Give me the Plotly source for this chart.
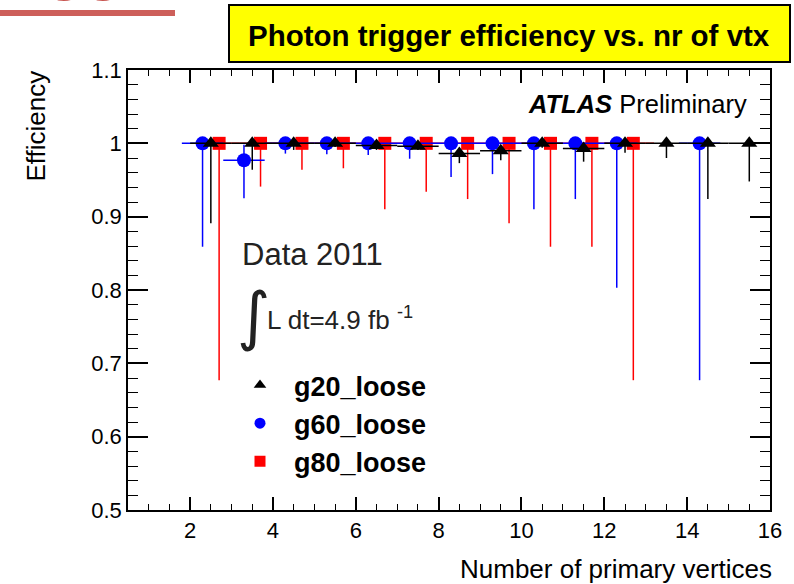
import plotly.graph_objects as go

# Efficiency of the photon triggers versus the number of primary vertices
g20_x = [2.5, 3.5, 4.5, 5.5, 6.5, 7.5, 8.5, 9.5, 10.5, 11.5, 12.5, 13.5, 14.5, 15.5]
g20_eff = [1.0, 1.0, 1.0, 1.0, 0.997, 0.996, 0.986, 0.990, 1.0, 0.993, 1.0, 1.0, 1.0, 1.0]
g20_err_lo = [0.109, 0.036, 0.009, 0.005, 0.006, 0.005, 0.013, 0.013, 0.006, 0.018, 0.013, 0.020, 0.076, 0.052]
g20_err_hi = [0.0, 0.0, 0.0, 0.0, 0.003, 0.004, 0.006, 0.004, 0.0, 0.004, 0.0, 0.0, 0.0, 0.0]

g60_x = [2.3, 3.3, 4.3, 5.3, 6.3, 7.3, 8.3, 9.3, 10.3, 11.3, 12.3, 14.3]
g60_eff = [1.0, 0.977, 1.0, 1.0, 1.0, 1.0, 1.0, 1.0, 1.0, 1.0, 1.0, 1.0]
g60_err_lo = [0.141, 0.052, 0.014, 0.015, 0.016, 0.021, 0.046, 0.042, 0.090, 0.076, 0.197, 0.323]
g60_err_hi = [0.0, 0.021, 0.0, 0.0, 0.0, 0.0, 0.0, 0.0, 0.0, 0.0, 0.0, 0.0]

g80_x = [2.7, 3.7, 4.7, 5.7, 6.7, 7.7, 8.7, 9.7, 10.7, 11.7, 12.7]
g80_eff = [1.0, 1.0, 1.0, 1.0, 1.0, 1.0, 1.0, 1.0, 1.0, 1.0, 1.0]
g80_err_lo = [0.323, 0.059, 0.036, 0.034, 0.090, 0.066, 0.076, 0.109, 0.141, 0.141, 0.323]
g80_err_hi = [0.0] * 11

bin_half_width = 0.5

x_ticks = [2, 4, 6, 8, 10, 12, 14, 16]
y_ticks = [0.5, 0.6, 0.7, 0.8, 0.9, 1.0, 1.1]
y_tick_text = ["0.5", "0.6", "0.7", "0.8", "0.9", "1", "1.1"]

FONT = "Liberation Sans, Arial, Helvetica, sans-serif"
W, H = 794, 584
ML, MR, MT, MB = 128, 24, 70, 74
PW, PH = W - ML - MR, H - MT - MB


def px(x):
    return (x - ML) / PW


def py(y):
    return (H - MB - y) / PH


series = [
    ("g20_loose", g20_x, g20_eff, g20_err_lo, g20_err_hi, "black", "triangle-up", 14),
    ("g60_loose", g60_x, g60_eff, g60_err_lo, g60_err_hi, "rgb(0,0,255)", "circle", 14),
    ("g80_loose", g80_x, g80_eff, g80_err_lo, g80_err_hi, "rgb(255,0,0)", "square", 13),
]

fig = go.Figure()

# data points with asymmetric efficiency errors and bin-width x errors
for name, xs, ys, lo, hi, col, sym, size in reversed(series):
    fig.add_trace(go.Scatter(
        x=xs, y=ys, mode="markers", name=name, showlegend=False,
        marker=dict(symbol=sym, size=size, color=col, line=dict(width=0)),
        error_y=dict(type="data", symmetric=False, array=hi, arrayminus=lo,
                     color=col, thickness=1.5, width=0),
        error_x=dict(type="constant", value=bin_half_width,
                     color=col, thickness=1.5, width=0),
    ))

# legend entries
for name, xs, ys, lo, hi, col, sym, size in series:
    fig.add_trace(go.Scatter(
        x=[None], y=[None], mode="markers", name=name, legendgroup=name,
        marker=dict(symbol=sym, size=11, color=col, line=dict(width=0)),
    ))

axis_common = dict(
    showgrid=False, zeroline=False, showline=True, linecolor="black",
    linewidth=1.5, mirror="allticks", ticks="inside", tickcolor="black",
    tickwidth=1.5, tickfont=dict(family=FONT, size=22, color="black"),
)

fig.update_xaxes(
    range=[0.5, 16], tickvals=x_ticks, ticklen=13,
    minor=dict(dtick=0.5, ticks="inside", ticklen=6, tickcolor="black", tickwidth=1.2),
    **axis_common,
)
fig.update_yaxes(
    range=[0.5, 1.1], tickvals=y_ticks, ticktext=y_tick_text, ticklen=20,
    minor=dict(dtick=0.02, ticks="inside", ticklen=10, tickcolor="black", tickwidth=1.2),
    **axis_common,
)


def note(x, y, text, size, xanchor="left", yanchor="middle", family=FONT,
         color="black", **kw):
    return dict(xref="paper", yref="paper", x=px(x), y=py(y), text=text,
                xanchor=xanchor, yanchor=yanchor, showarrow=False,
                font=dict(family=family, size=size, color=color), **kw)


annotations = [
    note(774, 569, "Number of primary vertices", 26, xanchor="right"),
    note(35, 69, "Efficiency", 26, xanchor="center", yanchor="top", textangle=-90),
    note(509, 36, "<b>Photon trigger efficiency vs. nr of vtx</b>", 29.5, xanchor="center"),
    note(749, 104, "<b><i>ATLAS</i></b> Preliminary", 25.5, xanchor="right"),
    note(240, 255, "Data 2011", 31, color="#222222"),
    note(235, 316, "\u222b", 64, family="DejaVu Sans", color="#222222"),
    note(265, 318, "L dt=4.9 fb <sup>-1</sup>", 26, color="#222222"),
    note(186, 4, "<b>Trigger</b>", 64, xanchor="right", yanchor="bottom",
         color="rgb(200,85,80)"),
]

shapes = [
    dict(type="rect", xref="paper", yref="paper", x0=px(229), x1=px(790),
         y0=py(62), y1=py(5), fillcolor="yellow", line=dict(color="black", width=2),
         layer="below"),
    dict(type="rect", xref="paper", yref="paper", x0=px(0), x1=px(175),
         y0=py(16), y1=py(10), fillcolor="rgb(205,95,90)", line=dict(width=0)),
]

fig.update_layout(
    width=W, height=H,
    margin=dict(l=ML, r=MR, t=MT, b=MB, autoexpand=False),
    paper_bgcolor="white", plot_bgcolor="white",
    font=dict(family=FONT, color="black"),
    annotations=annotations, shapes=shapes,
    legend=dict(x=px(226), y=py(361), xanchor="left", yanchor="top",
                bgcolor="rgba(0,0,0,0)", itemwidth=58, tracegroupgap=0,
                font=dict(family=FONT, size=27, color="black", weight="bold")),
)

fig.write_html("out.html")
